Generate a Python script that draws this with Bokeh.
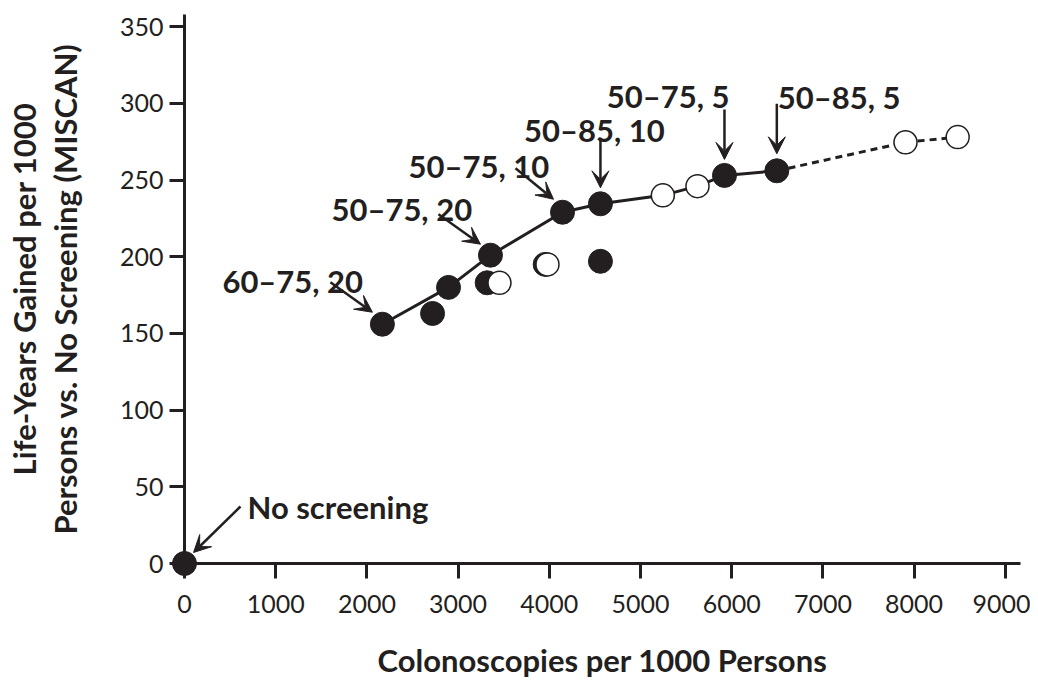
from bokeh.plotting import figure
from bokeh.models import Range1d, FixedTicker, Arrow, VeeHead, Label
from bokeh.embed import file_html
from bokeh.resources import INLINE

# ---------------- data ----------------
filled_x = [0, 2170, 2720, 2895, 3319, 3355, 3955, 4145, 4561, 4561, 5921, 6495]
filled_y = [0, 156, 163, 180, 183, 201, 195, 229, 234.5, 197, 253, 256]
open_x = [3454, 3980, 5245, 5625, 7906, 8478]
open_y = [183, 195, 240, 246, 274.6, 278]
frontier_x = [2170, 2895, 3355, 4145, 4561, 5245, 5625, 5921, 6495]
frontier_y = [156, 180, 201, 229, 234.5, 240, 246, 253, 256]
extension_x = [6495, 7906, 8478]
extension_y = [256, 274.6, 278]
x_ticks = [0, 1000, 2000, 3000, 4000, 5000, 6000, 7000, 8000, 9000]
y_ticks = [0, 50, 100, 150, 200, 250, 300, 350]
ann_text = ["No screening", "60\u201375, 20", "50\u201375, 20", "50\u201375, 10",
            "50\u201385, 10", "50\u201375, 5", "50\u201385, 5"]
ann_x = [0, 2170, 3355, 4145, 4561, 5921, 6495]
ann_y = [0, 156, 201, 229, 234.5, 253, 256]

# ---------------- layout / style ----------------
INK = "#231f20"
X_MAX, Y_MAX = 9167, 357.9
FRAME_W, FRAME_H = 836, 549
SX, SY = FRAME_W / X_MAX, FRAME_H / Y_MAX   # px per data unit

# screen offsets (px, y up) for arrow tip, arrow tail, label anchor, label align
ann_style = [
    ((9, 11), (56, 57), (63, 57), "left"),
    ((-10, 12), (-52, 42), (-160, 43), "left"),
    ((-10, 11), (-52, 41), (-159, 46), "left"),
    ((-9, 13), (-47, 44), (-154, 46), "left"),
    ((0, 16), (0, 66), (-6, 74), "center"),
    ((0, 16), (0, 66), (5, 79), "right"),
    ((0, 17), (0, 67), (1, 74), "left"),
]

p = figure(width=1030, height=682, output_backend="svg", toolbar_location=None,
           x_range=Range1d(0, X_MAX), y_range=Range1d(0, Y_MAX),
           min_border_left=184, min_border_right=10, min_border_top=14,
           min_border_bottom=119)
p.outline_line_color = None
p.grid.visible = False
p.background_fill_color = "white"

for ax in (p.xaxis[0], p.yaxis[0]):
    ax.axis_line_width = 3
    ax.axis_line_color = INK
    ax.major_tick_line_width = 3
    ax.major_tick_line_color = INK
    ax.major_tick_out = 15
    ax.major_tick_in = 0
    ax.minor_tick_line_color = None
    ax.major_label_text_font = "Lato"
    ax.major_label_text_font_size = "25px"
    ax.major_label_text_color = INK
    ax.axis_label_text_font = "Lato"
    ax.axis_label_text_font_style = "bold"
    ax.axis_label_text_font_size = "31px"
    ax.axis_label_text_color = INK

p.xaxis.ticker = FixedTicker(ticks=x_ticks)
p.yaxis.ticker = FixedTicker(ticks=y_ticks)
p.xaxis.major_label_standoff = 16
p.yaxis.major_label_standoff = 6
p.xaxis.axis_label = "Colonoscopies per 1000 Persons"
p.yaxis.axis_label = "Life-Years Gained per 1000\nPersons vs. No Screening (MISCAN)"
p.yaxis.axis_label_text_line_height = 1.07
p.xaxis.axis_label_standoff = 25
p.yaxis.axis_label_standoff = 33

p.line(frontier_x, frontier_y, line_width=3, line_color=INK)
p.line(extension_x, extension_y, line_width=3, line_color=INK, line_dash="7 5")

p.scatter(filled_x, filled_y, size=24, fill_color=INK, line_color=INK,
          line_width=1, level="overlay")
p.scatter(open_x, open_y, size=23, fill_color="white", line_color=INK,
          line_width=1.5, level="overlay")

for txt, x, y, (tip, tail, lab, align) in zip(ann_text, ann_x, ann_y, ann_style):
    p.add_layout(Arrow(end=VeeHead(size=17, fill_color=INK, line_color=INK, line_width=1),
                       x_start=x + tail[0] / SX, y_start=y + tail[1] / SY,
                       x_end=x + tip[0] / SX, y_end=y + tip[1] / SY,
                       line_width=2.5, line_color=INK))
    p.add_layout(Label(x=x, y=y, x_offset=lab[0], y_offset=lab[1], text=txt,
                       text_font="Lato", text_font_style="bold",
                       text_font_size="31px", text_color=INK,
                       text_align=align, text_baseline="alphabetic"))

open("out.html", "w").write(file_html(p, INLINE))
